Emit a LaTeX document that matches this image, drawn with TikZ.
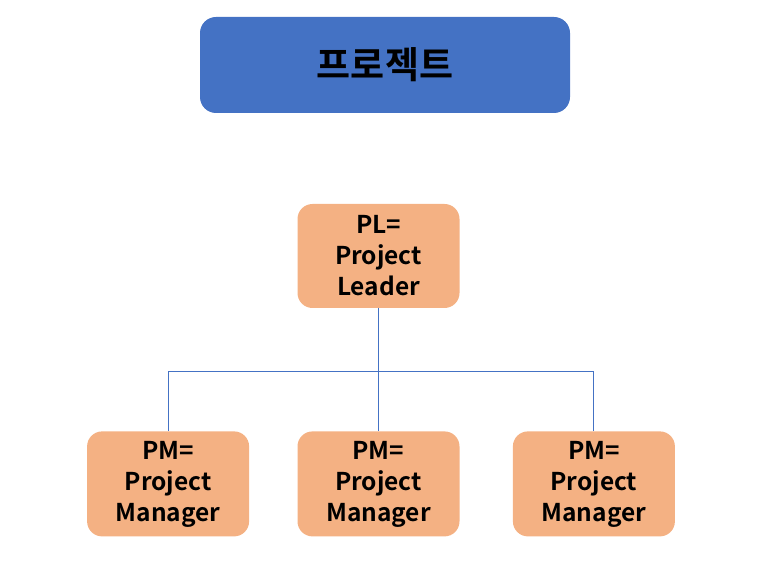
\documentclass[tikz,border=0pt]{standalone}
\usepackage{fontspec}
\setmainfont{Noto Sans CJK KR}[BoldFont={Noto Sans CJK KR Bold}]
\usetikzlibrary{calc, positioning}
\definecolor{titleblue}{HTML}{4472C4}
\definecolor{boxorange}{HTML}{F4B183}

\begin{document}
\begin{tikzpicture}[x=1pt, y=1pt,
    titlebox/.style={fill=titleblue, rounded corners=16pt, minimum width=370pt,
      minimum height=96pt, inner sep=0pt, font=\bfseries\fontsize{37}{44}\selectfont},
    rolebox/.style={fill=boxorange, rounded corners=15pt, minimum width=162pt,
      minimum height=105pt, inner sep=0pt, align=center,
      font=\bfseries\fontsize{24.5}{31}\selectfont},
    link/.style={draw=titleblue, line width=1pt}]
  \useasboundingbox (0,0) rectangle (758,-585);

  % Title
  \node[titlebox] (title) at (385,-65) {프로젝트};

  % Leader
  \node[rolebox, minimum height=104pt] (pl) at (378.5,-256) {PL=\\Project\\Leader};

  % Managers
  \node[rolebox, below=123pt of pl] (pm2) {PM=\\Project\\Manager};
  \node[rolebox, left=48pt of pm2] (pm1) {PM=\\Project\\Manager};
  \node[rolebox, right=53pt of pm2] (pm3) {PM=\\Project\\Manager};

  % Tree lines
  \coordinate (bus) at ($(pl.south)+(0,-63)$);
  \draw[link] (pl.south) -- (pm2.north);
  \draw[link] (bus) -| (pm1.north);
  \draw[link] (bus) -| (pm3.north);
\end{tikzpicture}
\end{document}
